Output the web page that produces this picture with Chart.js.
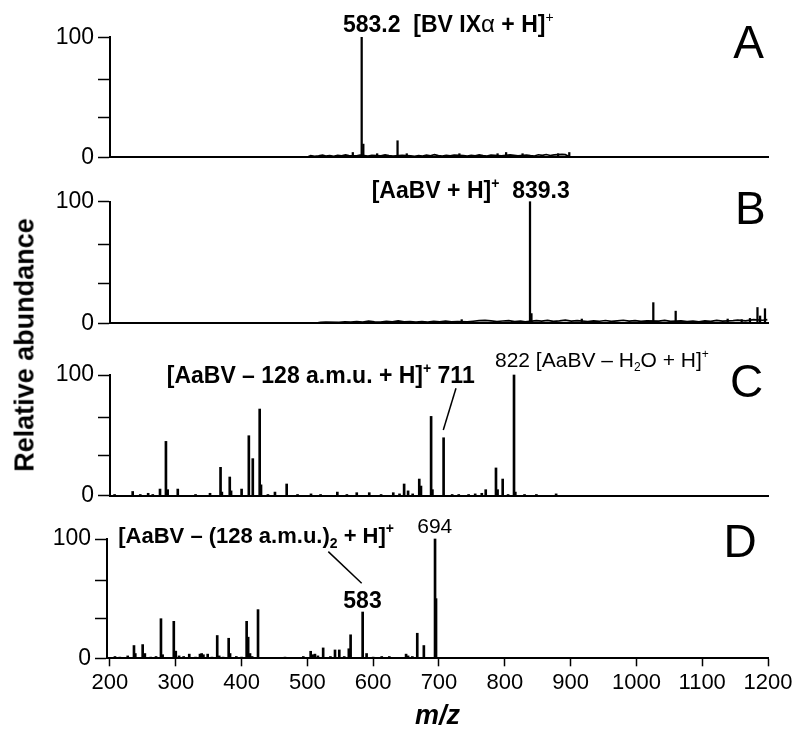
<!DOCTYPE html>
<html><head><meta charset="utf-8">
<script src="https://cdn.jsdelivr.net/npm/chart.js@4.4.0/dist/chart.umd.min.js"></script>
<style>
html,body{margin:0;padding:0;background:#fff;}
#wrap{position:relative;width:800px;height:741px;overflow:hidden;background:#fff;}
canvas{position:absolute;left:0;top:0;}
#ytitle{position:absolute;left:25px;top:345px;transform:translate(-50%,-50%) rotate(-90deg);font:bold 27px "Liberation Sans",Arial,sans-serif;white-space:nowrap;line-height:1;color:#000;}
</style></head><body>
<div id="wrap">
<canvas id="cA" width="800" height="741"></canvas>
<canvas id="cB" width="800" height="741"></canvas>
<canvas id="cC" width="800" height="741"></canvas>
<canvas id="cD" width="800" height="741"></canvas>
<div id="ytitle">Relative abundance</div>
</div>
<script>
// ---------- data (m/z, relative abundance %) ----------
const xTickValues = [200,300,400,500,600,700,800,900,1000,1100,1200];
const yTickValues = [0,33,65,100];
const yTickLabels = ['0','','','100'];

const peaksA = [[569,4],[582.5,100],[585,11],[606,3],[637,13.8],[651,3],[731,3],[789,3],[802,4],[827,3],[881,3],[898,4]];
const noiseA = [[500,0.3],[505,1.5],[511,0.8],[517,1.2],[523,1.8],[528,1],[534,1.4],[540,0.9],[546,1.6],[552,1.2],
 [558,2],[563,1.5],[575,1.3],[580,1.8],[592,1.1],[598,1.6],[612,1.2],[618,2],[624,1.4],[630,1],
 [644,1.7],[657,1.2],[663,0.9],[669,1.5],[675,1.1],[681,1.8],[687,1.3],[693,2.2],[699,1.4],[705,1],
 [711,1.6],[717,1.2],[723,1.9],[737,1.4],[743,1],[749,1.7],[755,1.2],[761,2],[767,1.5],[773,1.1],
 [779,1.8],[795,1.3],[808,2],[814,1.6],[820,1.2],[833,1.8],[839,1.4],[845,1.1],[851,2.1],[857,1.6],
 [863,2.3],[869,1.5],[875,2],[887,2.4],[892,2.2],[899,0.3]];

const peaksB = [[734.5,3],[838.3,100],[840.5,8],[917,3.5],[1025.7,17],[1059.7,10],[1138.7,3.5],[1160,3],[1172.6,4],[1184,13],[1188,6],[1195.4,12]];
const noiseB = [[513,0.3],[520,0.8],[528,1],[548,0.8],[557,1.2],[566,1],[575,1.5],[584,1.1],[593,1.8],[602,1.2],
 [611,1],[620,1.6],[629,1.3],[638,2],[647,1.2],[656,1.5],[665,1.1],[674,1.4],[683,1],[692,1.6],
 [701,1.2],[710,1.8],[719,1.3],[728,1.5],[743,1.2],[752,1.7],[761,2.2],[770,2.4],[779,2],[788,1.5],
 [797,1.9],[806,2.2],[815,1.4],[824,1.8],[831,1.2],[848,2.2],[856,1.8],[865,2.4],[874,1.6],[883,2],
 [892,2.6],[901,1.8],[910,2.2],[926,1.5],[935,2],[944,1.7],[953,2.3],[962,1.6],[971,2],[980,2.5],
 [989,1.8],[998,2.2],[1007,1.6],[1016,2],[1034,1.8],[1043,2.4],[1052,1.6],[1068,2],[1077,1.5],[1086,1.9],
 [1095,1.3],[1104,2],[1113,1.6],[1122,2.4],[1131,1.8],[1147,2.2],[1154,2.6],[1166,2],[1178,3],[1192,2.5],[1199,3]];

const peaksC = [[207,1],[234.5,3.5],[246,1],[258,2],[265,1],[276,5.5],[285,45],[287.6,5],[303,5.5],[330,1],
 [352,2],[368,23.5],[370,3],[382,15.5],[384,4],[400,5.5],[411,49.7],[417,30.7],[427.5,71.8],[429.5,9],
 [440,1],[450.7,3],[468.5,9.7],[485,1],[505.5,1.5],[520,1],[545.5,3],[560,1],[575,2.5],[594,2.5],
 [612,1],[630.5,2.5],[640,1.5],[647,9.7],[653,4],[660,1.5],[670,13.8],[672.6,8],[688,65.7],[690,5],
 [707,48],[720,1],[730,1],[745,1],[755,1.5],[765,2],[771,5],[786.6,23],[789,5],[796.8,13.8],
 [805,1],[814,100],[816,3],[830,1],[848,1],[878,1.5]];

const peaksD = [[207.6,1.5],[215,1],[227,2],[236.5,10.7],[238.5,4],[249.7,11.5],[253,4],[262,1],[270,1.5],[277.5,33.2],
 [280,3],[297,31],[300,6],[305,2],[312,1.5],[320.5,3.5],[330,1],[336.8,3.5],[339.4,4],[342,3],
 [348.5,3.5],[355,1],[363,19.1],[366,2],[372,1],[380.4,16.8],[382.5,4],[392,1.5],[400,1],[407.7,31],
 [410,17.7],[412.8,4],[416,1.5],[425,40.8],[466,1],[493.8,1.5],[505,5.9],[508,3],[511.5,3.5],[516,2],
 [524,8.7],[535,1.5],[542,7],[548.5,7],[556,1.5],[563,8],[565.7,19.7],[584,38.8],[590,4],[600,1],
 [613,1.5],[624.5,1.5],[650,3.5],[653,2],[659.5,1.5],[667,21],[677,10.7],[694,100],[695.5,50]];

// ---------- drawing ----------
const FONT = '"Liberation Sans", Arial, Helvetica, sans-serif';
const PLOT_RIGHT = 768;

function seg(t, weight, size, dy){ return {t, weight, size, dy: dy || 0}; }

function annotPlugin(p){
  return {
    id: 'annot',
    afterDatasetsDraw(chart){
      const ctx = chart.ctx, xs = chart.scales.x, ys = chart.scales.y;
      ctx.save();
      ctx.fillStyle = '#000'; ctx.strokeStyle = '#000';
      ctx.textAlign = 'left'; ctx.textBaseline = 'alphabetic';
      (p.lines || []).forEach(l => {
        ctx.lineWidth = 1.5;
        ctx.beginPath();
        ctx.moveTo(xs.getPixelForValue(l[0]), ys.getPixelForValue(l[1]));
        ctx.lineTo(xs.getPixelForValue(l[2]), ys.getPixelForValue(l[3]));
        ctx.stroke();
      });
      (p.texts || []).forEach(t => {
        let cx = xs.getPixelForValue(t.x);
        const by = ys.getPixelForValue(t.y);
        t.segs.forEach(s => {
          ctx.font = `${s.weight} ${s.size}px ${FONT}`;
          ctx.fillText(s.t, cx, by + s.dy);
          cx += ctx.measureText(s.t).width;
        });
      });
      ctx.restore();
    }
  };
}

function makeChart(p){
  const el = document.getElementById(p.id);
  const datasets = [{
    type: 'bar',
    data: p.points.map(([x, y]) => ({x, y})),
    backgroundColor: '#000', borderWidth: 0, barThickness: p.bar, clip: false
  }];
  if (p.noise) {
    datasets.push({
      type: 'line',
      data: p.noise.map(([x, y]) => ({x, y})),
      borderColor: '#000', borderWidth: 1.6, pointRadius: 0, tension: 0, fill: false
    });
  }
  return new Chart(el, {
    type: 'bar',
    data: { datasets },
    options: {
      responsive: false, animation: false, devicePixelRatio: 1,
      layout: { padding: { left: 0, right: 800 - PLOT_RIGHT, top: p.top, bottom: p.showX ? 0 : 741 - p.bottom } },
      plugins: { legend: { display: false }, tooltip: { enabled: false } },
      scales: {
        x: {
          type: 'linear', min: p.xMin, max: 1200, offset: false,
          grid: { display: p.showX, drawOnChartArea: false, tickLength: 8, tickWidth: 1.5, tickColor: '#000', offset: false },
          border: { display: true, color: '#000', width: 2 },
          ticks: { display: p.showX, color: '#000', font: { family: FONT, size: 22 }, padding: 3, maxRotation: 0, autoSkip: false,
                   callback: v => String(v) },
          title: { display: p.showX, text: 'm/z', color: '#000',
                   font: { family: FONT, size: 27, weight: 'bold', style: 'italic', lineHeight: 1.2 },
                   padding: { top: 0, bottom: 8 } },
          afterBuildTicks: s => { s.ticks = xTickValues.map(v => ({value: v})); },
          afterFit: s => { s.height = p.showX ? 741 - p.bottom : 0; s.paddingLeft = 0; s.paddingRight = 0; }
        },
        y: {
          min: 0, max: 100,
          grid: { display: true, drawOnChartArea: false, tickLength: 12, tickWidth: 1.5, tickColor: '#000' },
          border: { display: true, color: '#000', width: 2 },
          ticks: { color: '#000', font: { family: FONT, size: 23 }, padding: 4,
                   callback: (v, i) => yTickLabels[i] },
          afterBuildTicks: s => { s.ticks = yTickValues.map(v => ({value: v})); },
          afterFit: s => { s.width = p.left; s.paddingTop = 0; s.paddingBottom = 0; }
        }
      }
    },
    plugins: [annotPlugin(p)]
  });
}

const panels = [
  { id: 'cA', points: peaksA, noise: noiseA, top: 37.3, bottom: 157.3, left: 110, xMin: 200, showX: false, bar: 1.6,
    texts: [
      { x: 554.1, y: 104.2, segs: [seg('583.2  [BV IX','bold',23), seg('α','normal',24), seg(' + H]','bold',23), seg('+','normal',14,-10)] },
      { x: 1147, y: 82.5, segs: [seg('A','normal',46)] }
    ] },
  { id: 'cB', points: peaksB, noise: noiseB, top: 201.7, bottom: 323.3, left: 110, xMin: 200, showX: false, bar: 1.6,
    texts: [
      { x: 597.7, y: 102.8, segs: [seg('[AaBV + H]','bold',23), seg('+','bold',14,-10), seg('  839.3','bold',23)] },
      { x: 1149.8, y: 81.7, segs: [seg('B','normal',46)] }
    ] },
  { id: 'cC', points: peaksC, top: 375, bottom: 495.7, left: 110, xMin: 200, showX: false, bar: 2,
    lines: [[725.8, 89, 706.5, 54.4]],
    texts: [
      { x: 286.2, y: 93.4, segs: [seg('[AaBV – 128 a.m.u. + H]','bold',23), seg('+','bold',14,-10), seg(' 711','bold',23)] },
      { x: 785.1, y: 106.9, segs: [seg('822 [AaBV – H','normal',21), seg('2','normal',12,4), seg('O + H]','normal',21), seg('+','normal',12,-9)] },
      { x: 1142.2, y: 82, segs: [seg('C','normal',46)] }
    ] },
  { id: 'cD', points: peaksD, top: 539, bottom: 658.3, left: 107, xMin: 195.5, showX: true, bar: 2,
    lines: [[531.8, 89.4, 582.5, 62.9]],
    texts: [
      { x: 212.6, y: 96.4, segs: [seg('[AaBV – (128 a.m.u.)','bold',22), seg('2','bold',14,5), seg(' + H]','bold',22), seg('+','bold',14,-10)] },
      { x: 666.9, y: 104.8, segs: [seg('694','normal',21)] },
      { x: 554.6, y: 41.9, segs: [seg('583','bold',23)] },
      { x: 1132.2, y: 85.2, segs: [seg('D','normal',46)] }
    ] }
];

panels.forEach(makeChart);
</script>
</body></html>
